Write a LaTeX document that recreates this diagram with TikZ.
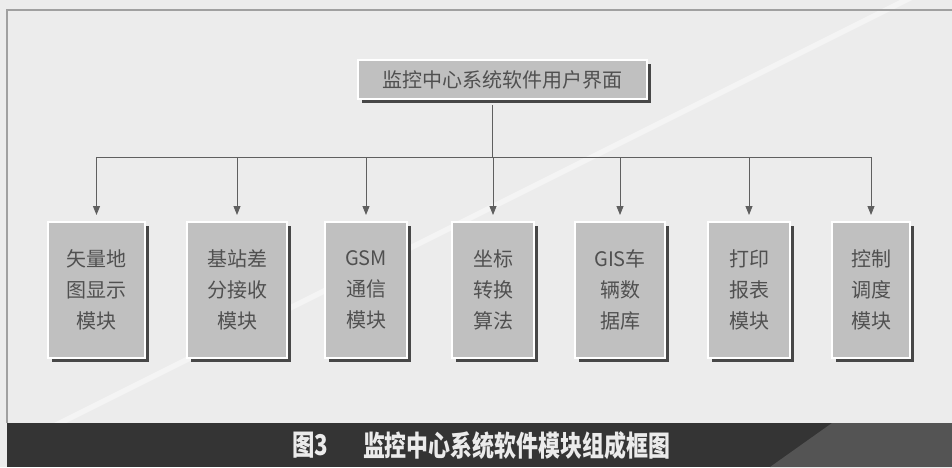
\documentclass[tikz,border=0pt]{standalone}
\usepackage{fontspec}
\newfontfamily\cjk{Noto Sans CJK SC}
\newfontfamily\capfont{Noto Sans CJK SC}
\usetikzlibrary{positioning,shadows,arrows.meta}
\definecolor{bggray}{RGB}{236,236,236}
\definecolor{boxgray}{RGB}{192,192,192}
\definecolor{txtgray}{RGB}{80,80,80}
\definecolor{bardark}{RGB}{52,52,52}
\definecolor{barlight}{RGB}{84,84,84}
\definecolor{framegray}{RGB}{160,160,160}
\definecolor{linegray}{RGB}{95,95,95}

\begin{document}
\begin{tikzpicture}[
        x=1pt, y=-1pt,
        font=\cjk\fontsize{20}{31}\selectfont,
        modbox/.style={rectangle, draw=white, line width=2.5pt, fill=boxgray, text=txtgray, align=center, inner sep=0pt, outer sep=0pt, minimum height=136pt,
            drop shadow={shadow xshift=4pt, shadow yshift=-4pt, fill=black!72, opacity=1}},
        link/.style={draw=linegray, line width=0.9pt},
        arrow/.style={link, -{Triangle[length=9pt,width=7pt]}, shorten >=7pt},
        captext/.style={inner sep=0pt, text=white!92!black, font=\capfont\bfseries\fontsize{26}{26}\selectfont}
    ]
        % background, frame and caption bar
        \useasboundingbox (0,0) rectangle (952,467);
        \fill[bggray] (0,0) rectangle (952,467);
        \fill[white, opacity=0.45] (54,423) -- (66,423) -- (912,0) -- (900,0) -- cycle;
        \draw[framegray, line width=1.5pt] (7,423) -- (7,10) -- (952,10);
        \fill[bardark] (7,423) rectangle (952,467);
        \fill[barlight] (770,467) -- (832,423) -- (952,423) -- (952,467) -- cycle;

        \node[modbox, minimum width=289pt, minimum height=39pt] (ui) at (502.5,79.5) {监控中心系统软件用户界面};

        \node[modbox, minimum width=97pt] (vmap) at (96.5,290) {矢量地\\图显示\\模块};
        \node[modbox, minimum width=100pt, right=42pt of vmap] (dgps) {基站差\\分接收\\模块};
        \node[modbox, minimum width=82pt, right=38pt of dgps] (gsm) {GSM\\通信\\模块};
        \node[modbox, minimum width=82pt, right=45pt of gsm] (coord) {坐标\\转换\\算法};
        \node[modbox, minimum width=90pt, right=41pt of coord] (gisdb) {GIS车\\辆数\\据库};
        \node[modbox, minimum width=82pt, right=43pt of gisdb] (report) {打印\\报表\\模块};
        \node[modbox, minimum width=78pt, right=42pt of report] (ctrl) {控制\\调度\\模块};

        \coordinate (hub) at (492,157);
        \draw[link, shorten <=6pt] (ui.south -| hub) -- (hub);
        \draw[link] (vmap.north |- hub) -- (ctrl.north |- hub);
        \foreach \m in {vmap,dgps,gsm,coord,gisdb,report,ctrl}
            \draw[arrow] (\m.north |- hub) -- (\m.north);

        % caption
        \node[captext] (fignum) at (310,445.5) {\resizebox{36pt}{1.1\height}{图3}};
        \node[captext] (figcap) at (516.5,445.5) {\resizebox{307pt}{1.1\height}{监控中心系统软件模块组成框图}};
    \end{tikzpicture}
\end{document}
